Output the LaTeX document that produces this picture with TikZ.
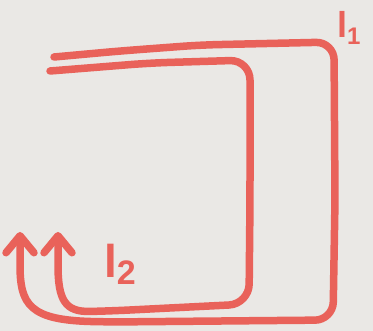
\documentclass[tikz,border=0pt]{standalone}
\usepackage{fontspec}
\setmainfont{Liberation Sans}
\usetikzlibrary{arrows.meta}
\definecolor{paper}{RGB}{234,232,229}
\definecolor{pen}{RGB}{233,98,90}
\tikzset{
  loop/.style={draw=pen, line width=7.5pt, line cap=round, line join=round, rounded corners=18pt,
    -{Straight Barb[length=17pt,width=28pt,line cap=round,line join=round]}},
  lbl/.style={text=pen, inner sep=0pt, font=\bfseries}
}
\begin{document}
\begin{tikzpicture}[x=1pt,y=-1pt]
\fill[paper] (0,0) rectangle (373,331);
\useasboundingbox (0,0) rectangle (373,331);
% outer loop l1
\coordinate (o0) at (54,57);
\coordinate (o1) at (200,45);
\coordinate (o2) at (334,42);
\coordinate (o3) at (333,320);
\coordinate (o4) at (110,322);
\coordinate (o5) at (20,232);
\draw[loop] (o0) -- (120,51) -- (o1) -- (o2) -- (335,200) -- (o3) -- (o4) [sharp corners]
  .. controls (30,320) and (20,305) .. (20,265) -- (o5);
% inner loop l2
\coordinate (i0) at (50,71);
\coordinate (i1) at (150,63);
\coordinate (i2) at (250,60);
\coordinate (i3) at (249,304);
\coordinate (i4) at (110,311);
\coordinate (i5) at (58,232);
\draw[loop, rounded corners=20pt] (i0) -- (i1) -- (i2) -- (250,200) -- (i3) -- (i4) [sharp corners]
  .. controls (65,312) and (58,300) .. (58,265) -- (i5);
% labels
\node[lbl, font=\bfseries\fontsize{36}{36}\selectfont, anchor=base west] (l1) at (337,38) {l\raisebox{-7pt}{\fontsize{24}{24}\selectfont 1}};
\node[lbl, font=\bfseries\fontsize{46}{46}\selectfont, anchor=base west] (l2) at (104,278) {l\raisebox{-7pt}{\fontsize{34}{34}\selectfont 2}};
\end{tikzpicture}
\end{document}
